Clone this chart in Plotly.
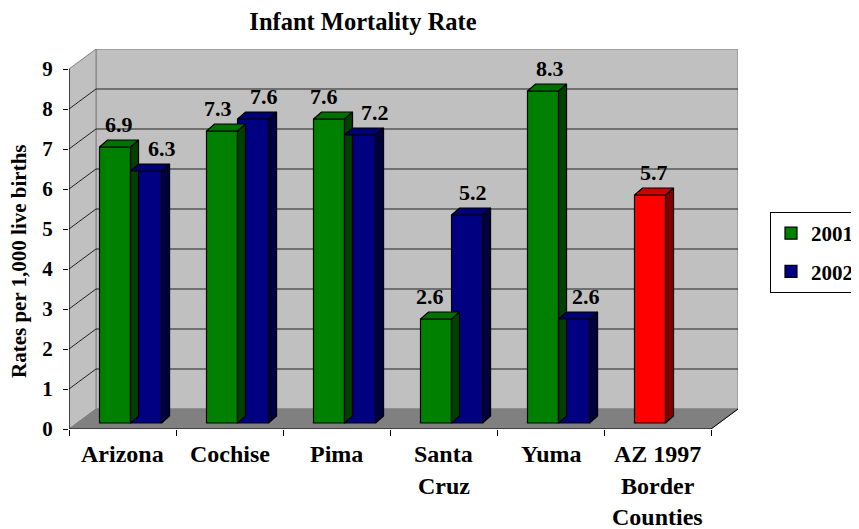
import plotly.graph_objects as go

# ---- data ----
categories = ["Arizona", "Cochise", "Pima", "Santa Cruz", "Yuma", "AZ 1997 Border Counties"]
tick_labels = ["Arizona", "Cochise", "Pima", "Santa<br>Cruz", "Yuma", "AZ 1997<br>Border<br>Counties"]
series_names = ["2001", "2002"]
values_2001 = [6.9, 7.3, 7.6, 2.6, 8.3, 5.7]
values_2002 = [6.3, 7.6, 7.2, 5.2, 2.6, None]
y_ticks = [0, 1, 2, 3, 4, 5, 6, 7, 8, 9]
title = "Infant Mortality Rate"
y_title = "Rates per 1,000 live births"

# ---- styling / geometry ----
FONT = "Liberation Serif, Times New Roman, serif"
OFF = 8                      # page body margin of the html page
W, H = 859 - OFF, 529 - OFF
PL, PT, PR, PB = 69, 49, 738, 429     # plot area in window pixels
L, T = PL - OFF, PT - OFF
R, B = W - (PR - OFF), H - (PB - OFF)
PW, PH = PR - PL, PB - PT
px_x = 107.0          # pixels per category
px_y = 40.0           # pixels per unit value
n = len(categories)
xr = [-0.5, -0.5 + PW / px_x]
yr = [0, PH / px_y]
dxw, dyw = 27 / px_x, 20 / px_y       # wall depth
dxb, dyb = 8 / px_x, 7 / px_y         # bar depth
base = 6 / px_y                        # bar front bottom above floor front
bw = 0.29
offs = [-0.215, 0.075]
# horizontal label nudges (pixels) so data labels clear neighbouring bars
label_nudge = [[0, -8, -9, -10, 3, 0], [12, 7, 11, 2, 8, 0]]
GRID = "#202020"
WALL = "#C0C0C0"
FLOOR = "#808080"

col_front = {"2001": "#008000", "2002": "#000080", "hl": "#FF0000"}
col_top = {"2001": "#007000", "2002": "#000070", "hl": "#D00000"}
col_side = {"2001": "#004000", "2002": "#000040", "hl": "#800000"}

def key_for(series, cat):
    return "hl" if cat.startswith("AZ 1997") else series

fig = go.Figure()
shapes = []

def poly(pts):
    return "M " + " L ".join(f"{x},{y}" for x, y in pts) + " Z"

ymax = max(y_ticks)
# back wall
shapes.append(dict(type="rect", xref="x", yref="y", x0=-0.5 + dxw, x1=n - 0.5 + dxw,
                   y0=dyw, y1=ymax + dyw, fillcolor=WALL, line=dict(color=FLOOR, width=1), layer="below"))
# left wall
shapes.append(dict(type="path", xref="x", yref="y",
                   path=poly([(-0.5, 0), (-0.5 + dxw, dyw), (-0.5 + dxw, ymax + dyw), (-0.5, ymax)]),
                   fillcolor=WALL, line=dict(color=FLOOR, width=1), layer="below"))
# floor
shapes.append(dict(type="path", xref="x", yref="y",
                   path=poly([(-0.5, 0), (n - 0.5, 0), (n - 0.5 + dxw, dyw), (-0.5 + dxw, dyw)]),
                   fillcolor=FLOOR, line=dict(color=FLOOR, width=1), layer="below"))
# gridlines
for k in y_ticks[1:-1]:
    shapes.append(dict(type="line", xref="x", yref="y", x0=-0.5 + dxw, x1=n - 0.5 + dxw,
                       y0=k + dyw, y1=k + dyw, line=dict(color=GRID, width=1), layer="below"))
    shapes.append(dict(type="line", xref="x", yref="y", x0=-0.5, x1=-0.5 + dxw,
                       y0=k, y1=k + dyw, line=dict(color=GRID, width=1), layer="below"))
# front axis lines
shapes.append(dict(type="line", xref="x", yref="y", x0=-0.5, x1=-0.5, y0=0, y1=ymax,
                   line=dict(color="black", width=1.2)))
shapes.append(dict(type="line", xref="x", yref="y", x0=-0.5, x1=n - 0.5, y0=0, y1=0,
                   line=dict(color="black", width=1.2)))
shapes.append(dict(type="line", xref="x", yref="y", x0=n - 0.5, x1=n - 0.5 + dxw, y0=0, y1=dyw,
                   line=dict(color="black", width=1)))

annotations = []
xs = list(range(n))
for s_i, (sname, vals) in enumerate(zip(series_names, [values_2001, values_2002])):
    colors = [col_front[key_for(sname, c)] for c in categories]
    fig.add_trace(go.Bar(
        x=xs, y=vals, base=base, width=bw, offset=offs[s_i], name=sname,
        marker=dict(color=colors, line=dict(color="black", width=1.2)),
        legendgroup=sname, showlegend=True, hoverinfo="skip"))
for s_i, (sname, vals) in enumerate(zip(series_names, [values_2001, values_2002])):
    for i, v in enumerate(vals):
        if v is None:
            continue
        k = key_for(sname, categories[i])
        x0 = i + offs[s_i]
        x1 = x0 + bw
        top = v + base
        # side face
        fig.add_trace(go.Scatter(
            x=[x1, x1, x1 + dxb, x1 + dxb, x1], y=[base, top, top + dyb, base + dyb, base],
            fill="toself", fillcolor=col_side[k], mode="lines",
            line=dict(color="black", width=1.2), showlegend=False, hoverinfo="skip"))
        # top face
        fig.add_trace(go.Scatter(
            x=[x0, x1, x1 + dxb, x0 + dxb, x0], y=[top, top, top + dyb, top + dyb, top],
            fill="toself", fillcolor=col_top[k], mode="lines",
            line=dict(color="black", width=1.2), showlegend=False, hoverinfo="skip"))
        annotations.append(dict(
            x=(x0 + x1) / 2 + dxb / 2, y=top + dyb, xref="x", yref="y", text=f"{v:.1f}",
            showarrow=False, yanchor="bottom", yshift=1, xshift=label_nudge[s_i][i],
            font=dict(family=FONT, size=22, color="black", weight="bold")))

# category labels
for i, lab in enumerate(tick_labels):
    for j, line in enumerate(lab.split("<br>")):
        annotations.append(dict(
            x=i, y=0, xref="x", yref="paper", text=line, showarrow=False,
            yanchor="middle", xanchor="center", yshift=-25 - 31.5 * j,
            font=dict(family=FONT, size=24, color="black", weight="bold")))

# y title
annotations.append(dict(
    x=(19 - PL) / PW, y=(PB - 261) / PH, xref="paper", yref="paper",
    text=y_title, textangle=-90, showarrow=False, xanchor="center", yanchor="middle",
    font=dict(family=FONT, size=21, color="black", weight="bold")))

fig.update_layout(
    width=W, height=H,
    margin=dict(l=L, r=R, t=T, b=B, pad=0, autoexpand=False),
    paper_bgcolor="white", plot_bgcolor="white",
    barmode="overlay",
    title=dict(text=title, x=(363 - OFF) / W, xref="container", xanchor="center",
               y=1 - (21 - OFF) / H, yref="container", yanchor="middle",
               font=dict(family=FONT, size=24.5, color="black", weight="bold")),
    xaxis=dict(range=xr, tickvals=[i - 0.5 for i in range(n + 1)], ticks="outside", ticklen=6,
               tickcolor="black", showticklabels=False, showgrid=False, zeroline=False,
               showline=False, fixedrange=True),
    yaxis=dict(range=yr, tickvals=y_ticks, ticks="outside", ticklen=5, tickcolor="black",
               showgrid=False, zeroline=False, showline=False, ticklabelstandoff=6,
               tickfont=dict(family=FONT, size=21, color="black", weight="bold"), fixedrange=True),
    legend=dict(x=(770 - PL) / PW, y=(PB - 212) / PH, xanchor="left", yanchor="top",
                bordercolor="black", borderwidth=1, bgcolor="white", tracegroupgap=8,
                traceorder="grouped",
                font=dict(family=FONT, size=21, color="black", weight="bold")),
    shapes=shapes, annotations=annotations,
)

fig.write_html("out.html")
